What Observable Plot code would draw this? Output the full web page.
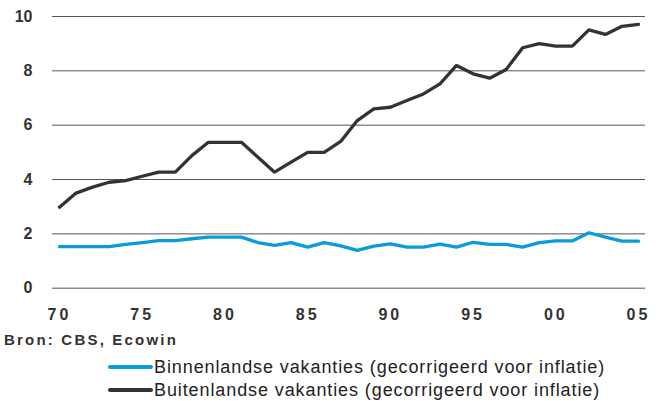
<!DOCTYPE html>
<html>
<head>
<meta charset="utf-8">
<script src="https://cdn.jsdelivr.net/npm/d3@7"></script>
<script src="https://cdn.jsdelivr.net/npm/@observablehq/plot@0.6"></script>
<style>
  html, body { margin: 0; padding: 0; background: #fff; }
  body { width: 662px; height: 401px; overflow: hidden; font-family: Arial, "Liberation Sans", sans-serif; }
  #wrap { position: relative; width: 662px; height: 401px; }
  #chart { position: absolute; left: 0; top: 0; }
  #chart g[aria-label="x-axis tick label"] text { letter-spacing: 3px; }
  .caption { position: absolute; left: 4px; top: 331px; font-size: 15px; font-weight: bold; color: #333; letter-spacing: 2.2px; white-space: nowrap; }
  .leg { position: absolute; left: 108px; height: 20px; display: flex; align-items: center; white-space: nowrap; font-size: 18px; line-height: 20px; letter-spacing: 0.9px; color: #222; }
  .leg .sw { display: inline-block; width: 45px; height: 4px; border-radius: 2px; margin-right: 1px; }
</style>
</head>
<body>
<div id="wrap">
  <div id="chart"></div>
  <div class="caption">Bron: CBS, Ecowin</div>
  <div class="leg" style="top:357px"><span class="sw" style="background:#0a9bdc"></span><span id="l1"></span></div>
  <div class="leg" style="top:380px"><span class="sw" style="background:#333333"></span><span id="l2"></span></div>
</div>
<script>
const years = d3.range(1970, 2006);
const binnenlands = [1.53,1.53,1.53,1.53,1.61,1.68,1.75,1.75,1.82,1.88,
                     1.88,1.88,1.68,1.58,1.68,1.51,1.68,1.56,1.39,1.55,
                     1.63,1.51,1.51,1.62,1.51,1.69,1.61,1.61,1.51,1.68,
                     1.74,1.74,2.04,1.88,1.73,1.73];
const buitenlands = [2.98,3.50,3.72,3.90,3.96,4.12,4.27,4.27,4.88,5.37,
                     5.37,5.37,4.82,4.27,4.64,5.00,5.00,5.40,6.17,6.60,
                     6.66,6.91,7.15,7.52,8.20,7.89,7.73,8.05,8.85,9.00,
                     8.91,8.91,9.51,9.34,9.64,9.71];
const seriesNames = ["Binnenlandse vakanties (gecorrigeerd voor inflatie)",
                     "Buitenlandse vakanties (gecorrigeerd voor inflatie)"];
const seriesColors = ["#0a9bdc", "#333333"];
const xTicks = [1970, 1975, 1980, 1985, 1990, 1995, 2000, 2005];
const yTicks = [0, 2, 4, 6, 8, 10];

const data = [
  ...years.map((y, i) => ({year: y, value: binnenlands[i], series: seriesNames[0]})),
  ...years.map((y, i) => ({year: y, value: buitenlands[i], series: seriesNames[1]}))
];

document.getElementById("l1").textContent = seriesNames[0];
document.getElementById("l2").textContent = seriesNames[1];

const chart = Plot.plot({
  width: 662,
  height: 326,
  marginLeft: 52,
  marginRight: 17,
  marginTop: 16,
  marginBottom: 38.3,
  style: {fontFamily: "Arial, 'Liberation Sans', sans-serif", color: "#333", background: "#fff"},
  x: {domain: [1969.577, 2005.423], ticks: xTicks, tickFormat: d => String(d % 100).padStart(2, "0")},
  y: {domain: [0, 10], ticks: yTicks},
  color: {domain: seriesNames, range: seriesColors},
  marks: [
    Plot.ruleY(yTicks, {stroke: "#555", strokeWidth: 1}),
    Plot.axisX({ticks: xTicks, tickSize: 0, tickPadding: 20, fontSize: 16, fontWeight: "bold", label: null, tickFormat: d => String(d % 100).padStart(2, "0")}),
    Plot.axisY({ticks: yTicks, tickSize: 0, tickPadding: 20, fontSize: 16, fontWeight: "bold", label: null}),
    Plot.line(data, {x: "year", y: "value", z: "series", stroke: "series", strokeWidth: 3.3, strokeLinejoin: "miter"})
  ]
});
document.getElementById("chart").appendChild(chart);
</script>
</body>
</html>
